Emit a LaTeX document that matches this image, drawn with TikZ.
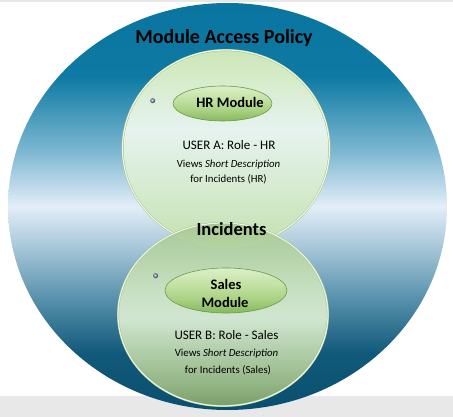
\documentclass[tikz,border=0pt]{standalone}
\usepackage{fontspec}
\setmainfont{Carlito}
\usetikzlibrary{shapes.geometric}
\definecolor{bgA}{HTML}{0A4F6E}
\definecolor{bgB}{HTML}{11597A}
\definecolor{bgC}{HTML}{5B93AE}
\definecolor{bgD}{HTML}{A7C7D9}
\definecolor{bgE}{HTML}{E3EDF8}
\definecolor{bgF}{HTML}{7AB6D0}
\definecolor{bgG}{HTML}{0E7AA3}
\definecolor{bgH}{HTML}{0A75A0}
\definecolor{tcA}{HTML}{C4E0B0}
\definecolor{tcB}{HTML}{D6EBD0}
\definecolor{tcC}{HTML}{E6F3EF}
\definecolor{tcD}{HTML}{D3EAC3}
\definecolor{tcE}{HTML}{CBE6B8}
\definecolor{bcA}{HTML}{86A868}
\definecolor{bcB}{HTML}{9EBC82}
\definecolor{bcC}{HTML}{BCD6A6}
\definecolor{bcD}{HTML}{E2F2D8}
\definecolor{bcE}{HTML}{CFE6C0}
\definecolor{bcF}{HTML}{B8D6A6}
\definecolor{bcG}{HTML}{A6C892}
\definecolor{plA}{HTML}{86B85E}
\definecolor{plB}{HTML}{A8D182}
\definecolor{plC}{HTML}{C0E0A0}
\definecolor{plD}{HTML}{DCF0C8}
\definecolor{plLine}{HTML}{6A9A48}
\definecolor{rimCol}{HTML}{EEF7E6}
\definecolor{edgeCol}{HTML}{9DBC86}
\definecolor{bandCol}{HTML}{E8E8E8}
\pgfdeclareverticalshading{bigsh}{100bp}{color(0bp)=(bgA); color(25bp)=(bgA); color(32bp)=(bgB); color(39bp)=(bgC); color(45bp)=(bgD); color(50bp)=(bgE); color(57bp)=(bgF); color(66bp)=(bgG); color(75bp)=(bgH); color(100bp)=(bgH)}
\pgfdeclareverticalshading{topsh}{100bp}{color(0bp)=(tcA); color(25bp)=(tcA); color(40bp)=(tcB); color(55bp)=(tcC); color(70bp)=(tcD); color(75bp)=(tcE); color(100bp)=(tcE)}
\pgfdeclareverticalshading{botsh}{100bp}{color(0bp)=(bcA); color(25bp)=(bcA); color(30bp)=(bcB); color(38bp)=(bcC); color(49bp)=(bcD); color(58bp)=(bcE); color(66bp)=(bcF); color(75bp)=(bcG); color(100bp)=(bcG)}
\pgfdeclareverticalshading{pillsh}{100bp}{color(0bp)=(plA); color(25bp)=(plA); color(40bp)=(plB); color(55bp)=(plC); color(75bp)=(plD); color(100bp)=(plD)}
\tikzset{
  blob/.style={ellipse, inner sep=0pt},
  rimmed/.style={draw=edgeCol, line width=0.4pt, double=rimCol, double distance=1.2pt},
  pill/.style={ellipse, inner sep=0pt, shading=pillsh, draw=plLine, line width=0.6pt},
  dotmark/.style={circle, inner sep=0pt, minimum size=5pt, ball color=blue!25!gray!70},
  titletxt/.style={anchor=base, font=\bfseries\fontsize{20}{24}\selectfont},
  modtxt/.style={anchor=base, font=\bfseries\fontsize{14.5}{17}\selectfont},
  inctxt/.style={anchor=base, font=\bfseries\fontsize{18.5}{22}\selectfont},
  usertxt/.style={anchor=base, font=\fontsize{13}{15}\selectfont},
  smalltxt/.style={anchor=base, font=\fontsize{10.8}{13}\selectfont},
}
\begin{document}
\begin{tikzpicture}[x=1pt, y=-1pt]
\useasboundingbox (0,0) rectangle (453,417);
\fill[white] (0,0) rectangle (453,417);
\fill[bandCol] (0,0) rectangle (453,2.5);
\fill[bandCol] (0,396) rectangle (453,417);
% outer ellipse
\node[blob, shading=bigsh, minimum width=439pt, minimum height=407pt] (outer) at (227.5,206.5) {};
% top circle
\node[blob, rimmed, shading=topsh, minimum width=207pt, minimum height=197pt] (topc) at (226,148.5) {};
% bottom circle
\node[blob, rimmed, shading=botsh, fill opacity=0.9, draw opacity=0.95, minimum width=210pt, minimum height=183pt] (botc) at (223,314.5) {};
% pills
\node[pill, minimum width=99pt, minimum height=35pt] (hrpill) at (222.5,103.5) {};
\node[pill, minimum width=122pt, minimum height=45pt] (salespill) at (226,290.5) {};
% dots
\node[dotmark] (dot1) at (152.7,100.7) {};
\node[dotmark] (dot2) at (155.7,275.7) {};
% texts
\node[titletxt] (title) at (224,43.3) {Module Access Policy};
\node[modtxt] (hrmod) at (230,107.3) {HR Module};
\node[usertxt] (usera) at (229,149.3) {USER A: Role - HR};
\node[smalltxt] (viewsa) at (228.5,167.3) {Views \textit{Short Description}};
\node[smalltxt] (fora) at (228.5,182.7) {for Incidents (HR)};
\node[inctxt] (inc) at (231.5,235.7) {Incidents};
\node[modtxt] (sales1) at (226,290) {Sales};
\node[modtxt] (sales2) at (225,307.7) {Module};
\node[usertxt] (userb) at (226.5,339.3) {USER B: Role - Sales};
\node[smalltxt] (viewsb) at (226.5,356.7) {Views \textit{Short Description}};
\node[smalltxt] (forb) at (228,373.3) {for Incidents (Sales)};
\end{tikzpicture}
\end{document}
